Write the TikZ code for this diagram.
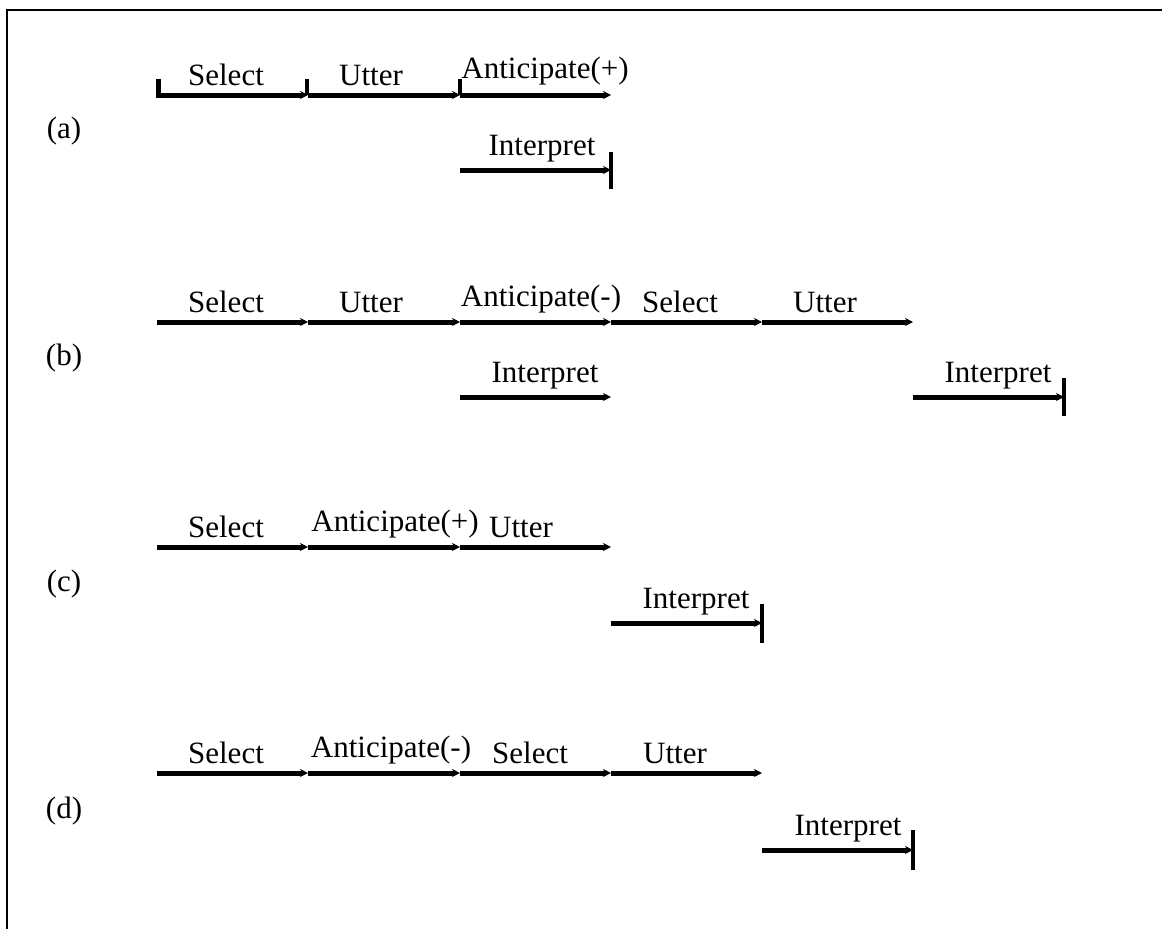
\documentclass[tikz,border=0pt]{standalone}
\usepackage{fontspec}
\setmainfont{Liberation Serif}
\usetikzlibrary{arrows.meta}
\begin{document}
\begin{tikzpicture}[x=1pt,y=-1pt,
  seg/.style={line width=5pt,-{Stealth[length=8pt,width=8pt]}},
  tickmark/.style={line width=4.5pt},
  lbl/.style={anchor=base,inner sep=0pt,font=\fontsize{31}{36}\selectfont},
  frame/.style={line width=2.5pt}]
\useasboundingbox (0,0) rectangle (1162,929);
% open frame: top and left edges
\coordinate (fr) at (1163,10);
\coordinate (fc) at (7,10);
\coordinate (fb) at (7,930);
\draw[frame] (fr) -- (fc) -- (fb);

% ---------- (a) ----------
\coordinate (a0) at (157,95);
\coordinate (a1) at (308,95);
\coordinate (a2) at (460,95);
\coordinate (a3) at (611,95);
\draw[seg] (a0) -- (a1);
\draw[seg] (a1) -- (a2);
\draw[seg] (a2) -- (a3);
\draw[tickmark] ([xshift=1.5pt,yshift=-2.5pt]a0) -- ++(0,-18.5);
\draw[tickmark] ([xshift=-1pt]a1) -- ++(0,-16);
\draw[tickmark] (a2) -- ++(0,-16);
\coordinate (ai0) at (460,170);
\coordinate (ai1) at (611,170);
\draw[seg] (ai0) -- (ai1);
\draw[tickmark] ([yshift=18pt]ai1) -- ([yshift=-19pt]ai1);
\node[lbl] (la1) at (226,85) {Select};
\node[lbl] (la2) at (371,85) {Utter};
\node[lbl] (la3) at (545,78) {Anticipate(+)};
\node[lbl] (la4) at (542,155) {Interpret};
\node[lbl] (la) at (64,138) {(a)};

% ---------- (b) ----------
\coordinate (b0) at (157,322);
\coordinate (b1) at (308,322);
\coordinate (b2) at (460,322);
\coordinate (b3) at (611,322);
\coordinate (b4) at (762,322);
\coordinate (b5) at (913,322);
\draw[seg] (b0) -- (b1);
\draw[seg] (b1) -- (b2);
\draw[seg] (b2) -- (b3);
\draw[seg] (b3) -- (b4);
\draw[seg] (b4) -- (b5);
\coordinate (bi0) at (460,397);
\coordinate (bi1) at (611,397);
\coordinate (bj0) at (913,397);
\coordinate (bj1) at (1064,397);
\draw[seg] (bi0) -- (bi1);
\draw[seg] (bj0) -- (bj1);
\draw[tickmark] ([yshift=19pt]bj1) -- ([yshift=-19pt]bj1);
\node[lbl] (lb1) at (226,312) {Select};
\node[lbl] (lb2) at (371,312) {Utter};
\node[lbl] (lb3) at (541,306) {Anticipate(-)};
\node[lbl] (lb4) at (680,312) {Select};
\node[lbl] (lb5) at (825,312) {Utter};
\node[lbl] (lb6) at (545,382) {Interpret};
\node[lbl] (lb7) at (998,382) {Interpret};
\node[lbl] (lb) at (64,365) {(b)};

% ---------- (c) ----------
\coordinate (c0) at (157,547);
\coordinate (c1) at (308,547);
\coordinate (c2) at (460,547);
\coordinate (c3) at (611,547);
\draw[seg] (c0) -- (c1);
\draw[seg] (c1) -- (c2);
\draw[seg] (c2) -- (c3);
\coordinate (ci0) at (611,623);
\coordinate (ci1) at (762,623);
\draw[seg] (ci0) -- (ci1);
\draw[tickmark] ([yshift=19pt]ci1) -- ([yshift=-20pt]ci1);
\node[lbl] (lc1) at (226,537) {Select};
\node[lbl] (lc2) at (395,531) {Anticipate(+)};
\node[lbl] (lc3) at (521,537) {Utter};
\node[lbl] (lc4) at (696,608) {Interpret};
\node[lbl] (lc) at (64,591) {(c)};

% ---------- (d) ----------
\coordinate (d0) at (157,773);
\coordinate (d1) at (308,773);
\coordinate (d2) at (460,773);
\coordinate (d3) at (611,773);
\coordinate (d4) at (762,773);
\draw[seg] (d0) -- (d1);
\draw[seg] (d1) -- (d2);
\draw[seg] (d2) -- (d3);
\draw[seg] (d3) -- (d4);
\coordinate (di0) at (762,850);
\coordinate (di1) at (913,850);
\draw[seg] (di0) -- (di1);
\draw[tickmark] ([yshift=20pt]di1) -- ([yshift=-20pt]di1);
\node[lbl] (ld1) at (226,763) {Select};
\node[lbl] (ld2) at (391,757) {Anticipate(-)};
\node[lbl] (ld3) at (530,763) {Select};
\node[lbl] (ld4) at (675,763) {Utter};
\node[lbl] (ld5) at (848,835) {Interpret};
\node[lbl] (ld) at (64,818) {(d)};
\end{tikzpicture}
\end{document}
